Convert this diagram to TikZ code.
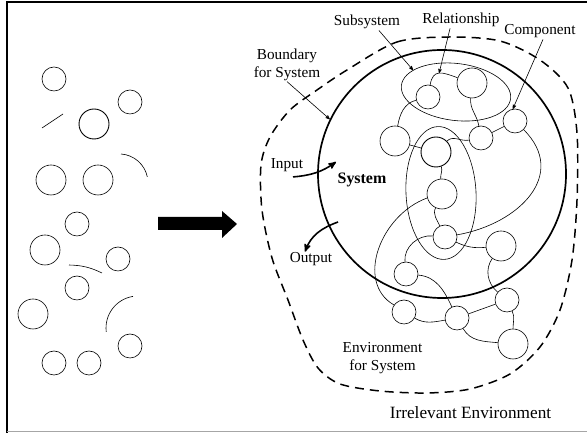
\documentclass[tikz,border=0pt]{standalone}
\usepackage{fontspec}
\setmainfont{Liberation Serif}
\usetikzlibrary{arrows,positioning,shapes.geometric,topaths}
\newcommand{\notefont}{\fontsize{15.3}{18}\selectfont}
\tikzstyle{part}=[circle,draw,inner sep=0pt,minimum size=24bp,line width=0.6pt]
\tikzstyle{big part}=[part,minimum size=30bp]
\tikzstyle{group}=[ellipse,draw,inner sep=0pt,line width=0.6pt]
\tikzstyle{link}=[line width=0.6pt]
\tikzstyle{note}=[inner sep=1pt,font=\notefont]
\tikzstyle{points to}=[-stealth',line width=0.6pt]
\tikzstyle{flow}=[-stealth',line width=1.6pt]

\begin{document}
\begin{tikzpicture}[x=1bp,y=1bp]
\useasboundingbox (0,0) rectangle (587,433);
\draw[line width=1.5pt] (7,0) -- (7,431) -- (587,431);
\draw[gray!70,line width=1pt] (7,1.5) -- (587,1.5);

\foreach \x/\y/\r in {54/354/12,130/331/12,51/253/15,98/253/15,77/209/12,45/183/15,118/174/12,77/145/12,33/119/15,130/87/12,54/70/12,89/70/12}
  \draw[link] (\x,\y) circle (\r);
\draw[line width=0.9pt] (94,309) circle (15);
\draw[link] (42,305) -- (63,319);
\draw[link] (121,279) arc[start angle=86,end angle=12,radius=29];
\draw[link] (69,168) to[bend left=12] (102,160);
\draw[link] (133,136.6) arc[start angle=99,end angle=187,radius=32];

\fill (158,216) -- (222,216) -- (222,222) -- (237,209) -- (222,195) -- (222,203) -- (158,203) -- cycle;

\draw[line width=1.5pt,dash pattern=on 9bp off 6bp] plot[smooth cycle] coordinates {
  (347,363) (397,391) (450,396) (500,392) (540,373) (568,345) (577,300) (577,233)
  (572,173) (560,123) (540,86) (510,59) (470,44) (427,40) (380,42) (340,49)
  (318,65) (303,93) (288,133) (272,175) (262,223) (261,268) (270,296) (290,323) (317,343)};

\node (sys) [circle,draw,line width=1.7pt,minimum size=248bp] at (442,259) {};
\node (sub) [group,minimum width=110bp,minimum height=57bp,rotate=-7] at (456,341) {};
\node (core) [group,minimum width=70bp,minimum height=133bp,rotate=3] at (441,240) {};

\node (c1) [part] at (428,336) {};
\node (c2) [big part] at (472,350) {};
\node (c3) [part] at (515,312) {};
\node (c4) [big part] at (395,292) {};
\node (c5) [big part,line width=0.9pt] at (436,281) {};
\node (c6) [part] at (481,295) {};
\node (c7) [big part] at (442,239) {};
\node (c8) [part] at (445,196) {};
\node (c9) [big part] at (501,187) {};
\node (c10) [part] at (406,159) {};
\node (c11) [part] at (507,133) {};
\node (c12) [part] at (404,121) {};
\node (c13) [part] at (457,115) {};
\node (c14) [big part] at (513,89) {};

\draw[link] (c4) to[out=80,in=195] (c1);
\draw[link] (c1) to[out=80,in=160,looseness=1.5] coordinate[pos=0.5] (rel) (c2);
\draw[link] (c2) to[out=265,in=100] (c6);
\draw[link] (c6) -- (c3);
\draw[link] (c4) -- (c5);
\draw[link] (c5) to[out=45,in=190] (c6);
\draw[link] (c5) to[out=-70,in=95] (c7);
\draw[link] (c7) to[out=245,in=115] (c8);
\draw[link] (c3) to[out=-45,in=10,looseness=1.3] (c8);
\draw[link] (c7.195) .. controls +(200:50) and +(150:45) .. (c12.145);
\draw[link] (c8) to[out=-25,in=185] (c9);
\draw[link] (c8) to[out=175,in=95] (c10);
\draw[link] (c9) to[out=235,in=140] (c11);
\draw[link] (c10) to[out=-5,in=115] (c13);
\draw[link] (c11) -- (c13);
\draw[link] (c12) to[out=-30,in=190] (c13);
\draw[link] (c11) to[out=-65,in=90] (c14);
\draw[link] (c13) to[out=-60,in=175] (c14);

\node (subnote) [note,anchor=base] at (367,407) {Subsystem};
\node (relnote) [note,anchor=base] at (461,409) {Relationship};
\node (compnote) [note,anchor=base] at (540,398) {Component};
\node (boundnote) [note,align=center] at (287,368.5) {Boundary\\for System};
\node (innote) [note,anchor=base] at (287,264.5) {Input};
\node (sysnote) [note,anchor=base,font=\fontsize{16}{18}\selectfont\bfseries] at (362,249) {System};
\node (outnote) [note,anchor=base] at (311,170) {Output};
\node (envnote) [note,align=center] at (382.5,74.5) {Environment\\for System};
\node (irrnote) [note,anchor=base,font=\fontsize{17.3}{20}\selectfont] at (470.5,14.5) {Irrelevant Environment};

\draw[points to] ([xshift=12]subnote.south) -- (sub.160);
\draw[points to] ([xshift=-11]relnote.south) -- (rel);
\draw[points to] ([xshift=3]compnote.south) -- (c3.100);
\draw[points to] (boundnote.south) -- (sys.154);

\coordinate (intip) at (336,271);
\coordinate (outstart) at (338,211);
\draw[flow] ([shift={(6,-4)}]innote.south) to[out=5,in=215] (intip);
\draw[flow] (outstart) to[out=200,in=70] ([xshift=-6]outnote.north);
\end{tikzpicture}
\end{document}
